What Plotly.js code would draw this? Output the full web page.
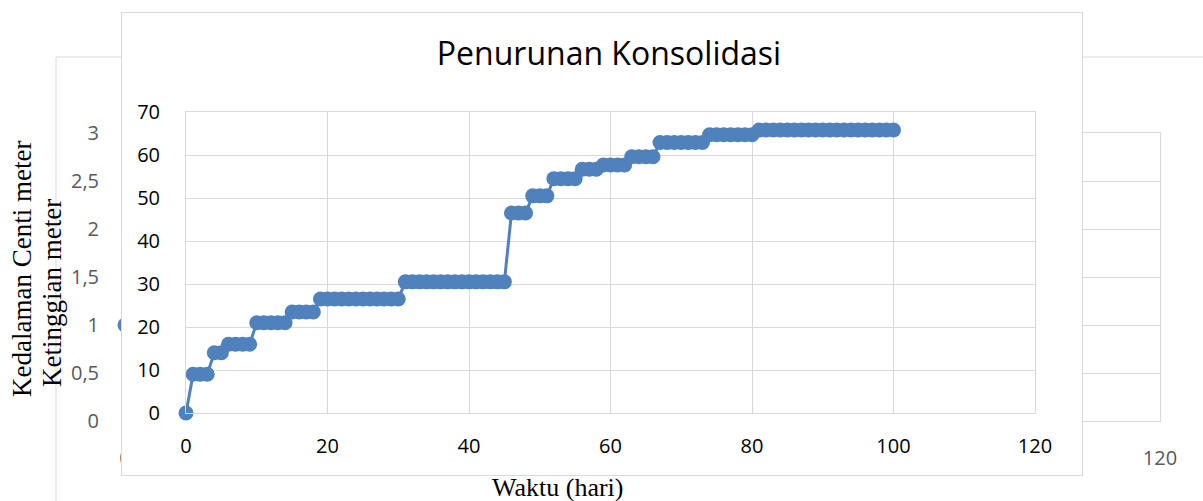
<!DOCTYPE html>
<html>
<head>
<meta charset="utf-8">
<script src="https://cdn.plot.ly/plotly-3.0.1.min.js"></script>
<style>html,body{margin:0;padding:0;background:#fff;}#chart{width:1203px;height:501px;}</style>
</head>
<body>
<div id="chart"></div>
<script>
// Front chart: Penurunan Konsolidasi
const days = [0,1,2,3,4,5,6,7,8,9,10,11,12,13,14,15,16,17,18,19,20,21,22,23,24,25,26,27,28,29,30,
  31,32,33,34,35,36,37,38,39,40,41,42,43,44,45,46,47,48,49,50,51,52,53,54,55,56,57,58,59,60,
  61,62,63,64,65,66,67,68,69,70,71,72,73,74,75,76,77,78,79,80,81,82,83,84,85,86,87,88,89,90,
  91,92,93,94,95,96,97,98,99,100];
const ketinggian = [0, 9,9,9, 14,14, 16,16,16,16, 21,21,21,21,21, 23.5,23.5,23.5,23.5,
  26.5,26.5,26.5,26.5,26.5,26.5,26.5,26.5,26.5,26.5,26.5,26.5,
  30.5,30.5,30.5,30.5,30.5,30.5,30.5,30.5,30.5,30.5,30.5,30.5,30.5,30.5,30.5,
  46.5,46.5,46.5, 50.5,50.5,50.5, 54.5,54.5,54.5,54.5, 56.7,56.7,56.7, 57.7,57.7,57.7,57.7,
  59.6,59.6,59.6,59.6, 62.9,62.9,62.9,62.9,62.9,62.9,62.9, 64.7,64.7,64.7,64.7,64.7,64.7,64.7,
  65.8,65.8,65.8,65.8,65.8,65.8,65.8,65.8,65.8,65.8,65.8,65.8,65.8,65.8,65.8,65.8,65.8,65.8,65.8,65.8];

// Back chart (mostly hidden behind the front chart): only the visible point and ticks
const backDays = [0];
const backKedalaman = [1];
const backXTicks = [0, 120];

const titleText = 'Penurunan Konsolidasi';
const xTitle = 'Waktu (hari)';
const yTitleBack = 'Kedalaman Centi meter';
const yTitleFront = 'Ketinggian meter';

const W = 1203, H = 501;
const px = v => v / W;
const py = v => 1 - v / H;

const blue = '#4f81bd';
const grid = '#d9d9d9';
const calib = 'Open Sans, sans-serif';
const serif = 'Liberation Serif, Times New Roman, serif';

const traces = [
  { x: backDays, y: backKedalaman, xaxis: 'x', yaxis: 'y', type: 'scatter', mode: 'lines+markers',
    line: { color: blue, width: 3 }, marker: { color: blue, size: 15 }, cliponaxis: false, hoverinfo: 'skip' },
  { x: [], y: [], xaxis: 'x2', yaxis: 'y2', type: 'scatter', mode: 'markers', hoverinfo: 'skip' },
  { x: days, y: ketinggian, xaxis: 'x3', yaxis: 'y3', type: 'scatter', mode: 'lines+markers',
    line: { color: blue, width: 3 }, marker: { color: blue, size: 15 }, cliponaxis: false }
];

const layout = {
  width: W, height: H,
  margin: { l: 0, r: 0, t: 0, b: 0, pad: 0 },
  paper_bgcolor: '#ffffff', plot_bgcolor: '#ffffff',
  showlegend: false,
  separators: ',.',
  title: { text: titleText, x: px(609), xanchor: 'center', xref: 'paper', y: py(54), yref: 'paper', yanchor: 'middle',
    font: { family: calib, size: 32, color: '#000000' } },
  // back chart
  xaxis: { domain: [px(125), px(1160)], range: [0, 120], tickmode: 'array', tickvals: backXTicks, anchor: 'y',
    showgrid: true, gridcolor: grid, gridwidth: 1, zeroline: false,
    showline: true, mirror: true, linecolor: grid, linewidth: 1,
    ticks: '', ticklabelstandoff: 19, tickfont: { family: calib, size: 20, color: '#595959' } },
  yaxis: { domain: [1 - 421 / H, 1 - 133 / H], range: [0, 3], dtick: 0.5, anchor: 'x',
    showgrid: true, gridcolor: grid, gridwidth: 1, zeroline: false,
    showline: true, mirror: true, linecolor: grid, linewidth: 1,
    ticks: '', ticklabelstandoff: 21, tickfont: { family: calib, size: 20, color: '#595959' } },
  // front chart frame
  xaxis2: { domain: [px(122), px(1082)], range: [0, 1], anchor: 'y2', showgrid: false, zeroline: false,
    showticklabels: false, ticks: '', showline: true, mirror: true, linecolor: grid, linewidth: 1, fixedrange: true },
  yaxis2: { domain: [1 - 475 / H, 1 - 13 / H], range: [0, 1], anchor: 'x2', showgrid: false, zeroline: false,
    showticklabels: false, ticks: '', showline: true, mirror: true, linecolor: grid, linewidth: 1, fixedrange: true },
  // front chart
  xaxis3: { domain: [px(186), px(1035)], range: [0, 120], dtick: 20, anchor: 'y3',
    showgrid: true, gridcolor: grid, gridwidth: 1, zeroline: false,
    showline: true, mirror: true, linecolor: grid, linewidth: 1,
    ticks: '', ticklabelstandoff: 15, tickfont: { family: calib, size: 20, color: '#000000' } },
  yaxis3: { domain: [1 - 413 / H, 1 - 112 / H], range: [0, 70], dtick: 10, anchor: 'x3',
    showgrid: true, gridcolor: grid, gridwidth: 1, zeroline: false,
    showline: true, mirror: true, linecolor: grid, linewidth: 1,
    ticks: '', ticklabelstandoff: 21, tickfont: { family: calib, size: 20, color: '#000000' } },
  shapes: [
    { type: 'rect', xref: 'paper', yref: 'paper', layer: 'below',
      x0: px(56), x1: 1.2, y0: -0.2, y1: py(57), line: { color: grid, width: 1 }, fillcolor: 'rgba(0,0,0,0)' }
  ],
  annotations: [
    { text: yTitleBack, xref: 'paper', yref: 'paper', x: px(22), y: py(269), xanchor: 'center', yanchor: 'middle',
      textangle: -90, showarrow: false, font: { family: serif, size: 27, color: '#000000' } },
    { text: yTitleFront, xref: 'paper', yref: 'paper', x: px(52), y: py(293), xanchor: 'center', yanchor: 'middle',
      textangle: -90, showarrow: false, font: { family: serif, size: 27, color: '#000000' } },
    { text: xTitle, xref: 'paper', yref: 'paper', x: px(557), y: py(487), xanchor: 'center', yanchor: 'middle',
      showarrow: false, font: { family: serif, size: 26, color: '#000000' } }
  ]
};

Plotly.newPlot('chart', traces, layout, { displayModeBar: false, staticPlot: true });
</script>
</body>
</html>
